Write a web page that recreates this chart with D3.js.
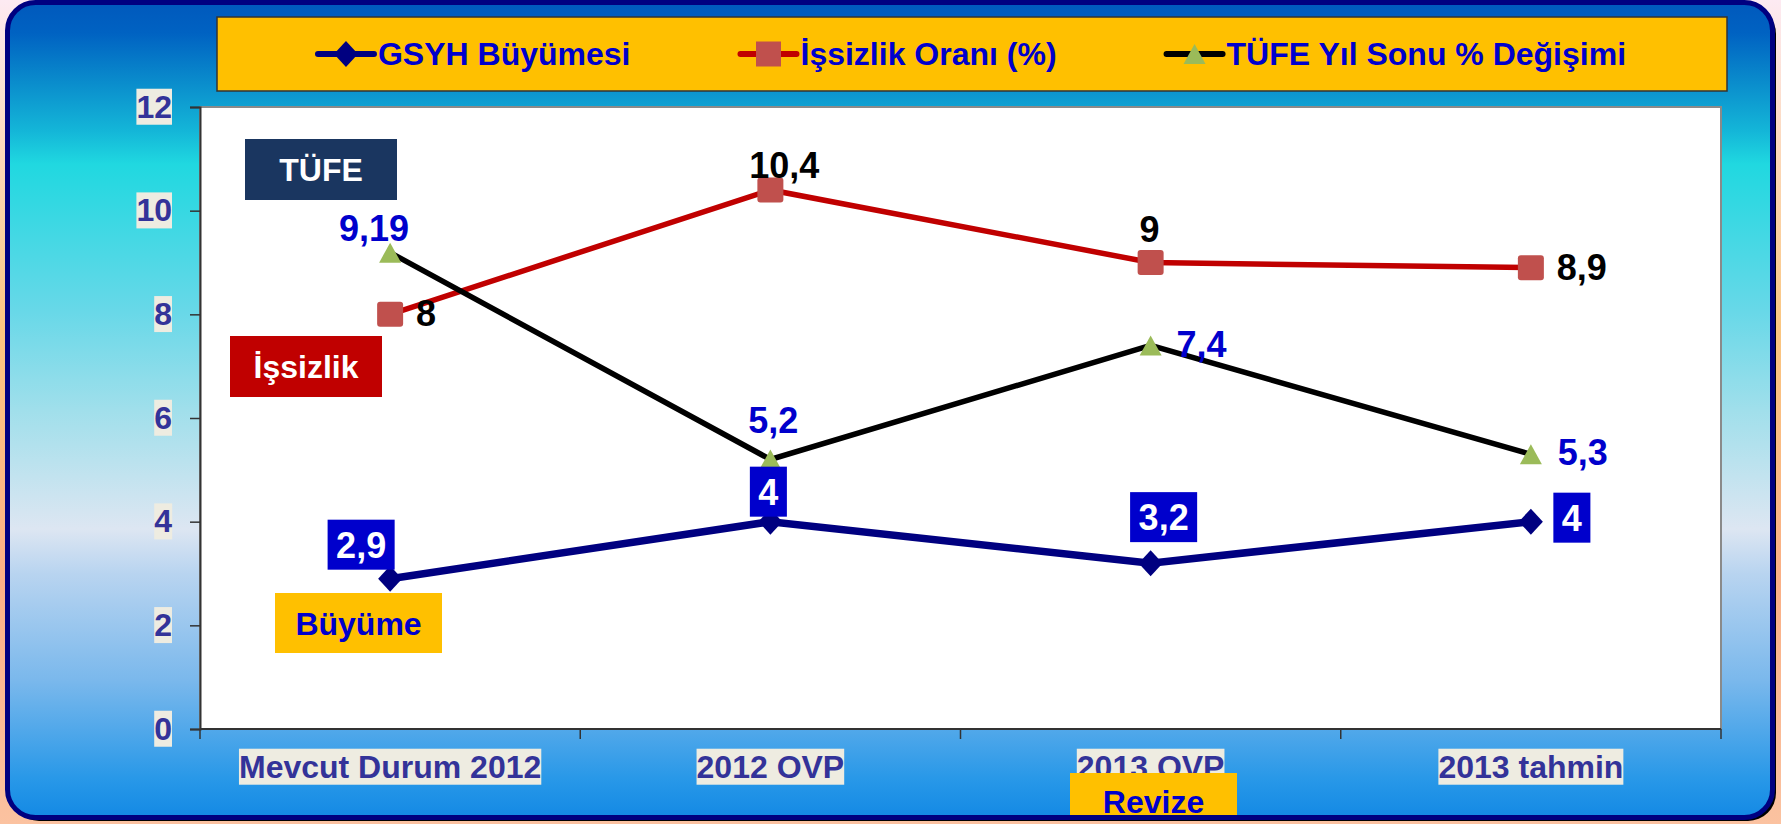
<!DOCTYPE html>
<html>
<head>
<meta charset="utf-8">
<script src="https://cdn.jsdelivr.net/npm/d3@7"></script>
<style>
	body { margin: 0; overflow: hidden; }
	svg { display: block; font-family: "Liberation Sans", Arial, sans-serif; font-weight: bold; }
</style>
</head>
<body>
<div id="chart"></div>
<script>
// data
const CATEGORIES = ["Mevcut Durum 2012", "2012 OVP", "2013 OVP", "2013 tahmin"];
const GSYH = [2.9, 4, 3.2, 4];
const ISSIZLIK = [8, 10.4, 9, 8.9];
const TUFE = [9.19, 5.2, 7.4, 5.3];
const Y_TICKS = [0, 2, 4, 6, 8, 10, 12];
const SERIES_NAMES = ["GSYH Büyümesi", "İşsizlik Oranı (%)", "TÜFE Yıl Sonu % Değişimi"];

// frame size
const FRAME_WIDTH = 1781;
const FRAME_HEIGHT = 824;
const PLOT = {left: 200, right: 1721, top: 107, bottom: 729};

// label offsets from the marker (x center, y baseline / box center)
const GSYH_LABEL_POS = [[-29, -34], [-2, -30], [13, -46], [41, -4]];
const TUFE_LABEL_POS = [[-16, -12], [3, -26], [51, 12], [52, 11]];
const ISSIZLIK_LABEL_POS = [[36, 12], [14, -12], [-1, -21], [51, 12]];

const SVG = d3.select("#chart")
				.append("svg")
					.attr("width", FRAME_WIDTH)
					.attr("height", FRAME_HEIGHT);

const DEFS = SVG.append("defs");

// outer page background
const BG_GRAD = DEFS.append("linearGradient")
					.attr("id", "bgGrad")
					.attr("x1", 0).attr("y1", 0).attr("x2", 0).attr("y2", 1);
[[0, "#fdeaf2"], [0.2, "#fcd7b6"], [0.4, "#fbc680"], [0.7, "#fbb086"], [1, "#fbc2a0"]]
	.forEach((s) => BG_GRAD.append("stop").attr("offset", s[0]).attr("stop-color", s[1]));

// blue frame gradient
const FRAME_GRAD = DEFS.append("linearGradient")
					.attr("id", "frameGrad")
					.attr("gradientUnits", "userSpaceOnUse")
					.attr("x1", 0).attr("y1", 0).attr("x2", 0).attr("y2", 820);
[[0, "#0058bc"], [0.04, "#0062c2"], [0.1, "#0a8ccc"], [0.16, "#14b6d8"], [0.2, "#20d8e0"],
 [0.38, "#68d8e8"], [0.5, "#a0dfeb"], [0.645, "#dde6f2"], [0.7, "#b8d4f0"], [0.83, "#7ab8ec"],
 [0.95, "#2898e8"], [1, "#1288e4"]]
	.forEach((s) => FRAME_GRAD.append("stop").attr("offset", s[0]).attr("stop-color", s[1]));

SVG.append("rect")
		.attr("width", FRAME_WIDTH)
		.attr("height", FRAME_HEIGHT)
		.attr("fill", "url(#bgGrad)");

// shadow + frame
SVG.append("rect")
		.attr("x", 11).attr("y", 6)
		.attr("width", 1765).attr("height", 815)
		.attr("rx", 28)
		.attr("fill", "#000");

SVG.append("rect")
		.attr("x", 7.5).attr("y", 2.5)
		.attr("width", 1765).attr("height", 815)
		.attr("rx", 28)
		.attr("fill", "url(#frameGrad)");

// scales
const X_SCALE = d3.scaleBand()
					.domain(CATEGORIES)
					.range([PLOT.left, PLOT.right]);

const Y_SCALE = d3.scaleLinear()
					.domain([0, 12])
					.range([PLOT.bottom, PLOT.top]);

const cx = (i) => X_SCALE(CATEGORIES[i]) + X_SCALE.bandwidth() / 2;

// plot area
SVG.append("rect")
		.attr("x", PLOT.left).attr("y", PLOT.top)
		.attr("width", PLOT.right - PLOT.left)
		.attr("height", PLOT.bottom - PLOT.top)
		.attr("fill", "#fff")
		.attr("stroke", "#8a8a8a")
		.attr("stroke-width", 2);

// y axis
const Y_AXIS = SVG.append("g")
					.attr("transform", "translate(" + PLOT.left + ",0)")
					.call(d3.axisLeft(Y_SCALE).tickValues(Y_TICKS).tickSize(10).tickPadding(18));
Y_AXIS.select(".domain").attr("stroke", "#333").attr("stroke-width", 2);
Y_AXIS.selectAll(".tick line").attr("stroke", "#333").attr("stroke-width", 1.5);
Y_AXIS.selectAll(".tick text")
		.attr("font-size", 32)
		.attr("font-family", "Liberation Sans, Arial, sans-serif")
		.attr("font-weight", "bold")
		.attr("fill", "#333399");

// x axis (labels only, ticks at band edges)
const X_AXIS = SVG.append("g")
					.attr("transform", "translate(0," + PLOT.bottom + ")")
					.call(d3.axisBottom(X_SCALE).tickSize(0).tickPadding(26));
X_AXIS.select(".domain").remove();
X_AXIS.selectAll(".tick text")
		.attr("font-size", 32)
		.attr("font-family", "Liberation Sans, Arial, sans-serif")
		.attr("font-weight", "bold")
		.attr("fill", "#333399");

SVG.append("line")
		.attr("x1", PLOT.left).attr("x2", PLOT.right)
		.attr("y1", PLOT.bottom).attr("y2", PLOT.bottom)
		.attr("stroke", "#333").attr("stroke-width", 2);

SVG.selectAll("xticks")
		.data(CATEGORIES.concat(["end"]))
		.enter()
		.append("line")
			.attr("x1", (d, i) => i < CATEGORIES.length ? X_SCALE(d) : PLOT.right)
			.attr("x2", (d, i) => i < CATEGORIES.length ? X_SCALE(d) : PLOT.right)
			.attr("y1", PLOT.bottom).attr("y2", PLOT.bottom + 10)
			.attr("stroke", "#333").attr("stroke-width", 1.5);

// beige boxes behind tick labels
function addBoxes(axis) {
	axis.selectAll(".tick").each(function() {
		const t = d3.select(this).select("text");
		const b = t.node().getBBox();
		d3.select(this).insert("rect", "text")
			.attr("x", b.x).attr("y", b.y)
			.attr("width", b.width).attr("height", b.height)
			.attr("fill", "#eeece1");
	});
}
addBoxes(Y_AXIS);
addBoxes(X_AXIS);

// series
const LINE = d3.line()
				.x((d, i) => cx(i))
				.y((d) => Y_SCALE(d));

SVG.append("path")
		.datum(GSYH)
		.attr("d", LINE)
		.attr("fill", "none")
		.attr("stroke", "#000080")
		.attr("stroke-width", 7.5);

SVG.append("path")
		.datum(ISSIZLIK)
		.attr("d", LINE)
		.attr("fill", "none")
		.attr("stroke", "#c00000")
		.attr("stroke-width", 5.5);

SVG.append("path")
		.datum(TUFE)
		.attr("d", LINE)
		.attr("fill", "none")
		.attr("stroke", "#000")
		.attr("stroke-width", 5.5);

const DIAMOND = "M0,-13L12,0L0,13L-12,0Z";
const TRIANGLE = "M0,-10L11,10L-11,10Z";

SVG.selectAll("diamonds")
		.data(GSYH)
		.enter()
		.append("path")
			.attr("d", DIAMOND)
			.attr("transform", (d, i) => "translate(" + cx(i) + "," + Y_SCALE(d) + ")")
			.attr("fill", "#000080");

SVG.selectAll("squares")
		.data(ISSIZLIK)
		.enter()
		.append("rect")
			.attr("x", (d, i) => cx(i) - 13)
			.attr("y", (d) => Y_SCALE(d) - 12.5)
			.attr("width", 26).attr("height", 25)
			.attr("rx", 3)
			.attr("fill", "#c0504d");

SVG.selectAll("triangles")
		.data(TUFE)
		.enter()
		.append("path")
			.attr("d", TRIANGLE)
			.attr("transform", (d, i) => "translate(" + cx(i) + "," + Y_SCALE(d) + ")")
			.attr("fill", "#9bbb59");

const fmt = (v) => String(v).replace(".", ",");

// value labels
SVG.selectAll("tufeLabels")
		.data(TUFE)
		.enter()
		.append("text")
			.attr("x", (d, i) => cx(i) + TUFE_LABEL_POS[i][0])
			.attr("y", (d, i) => Y_SCALE(d) + TUFE_LABEL_POS[i][1])
			.attr("text-anchor", "middle")
			.attr("font-size", 36)
			.attr("fill", "#0000cc")
			.text(fmt);

SVG.selectAll("issizlikLabels")
		.data(ISSIZLIK)
		.enter()
		.append("text")
			.attr("x", (d, i) => cx(i) + ISSIZLIK_LABEL_POS[i][0])
			.attr("y", (d, i) => Y_SCALE(d) + ISSIZLIK_LABEL_POS[i][1])
			.attr("text-anchor", "middle")
			.attr("font-size", 36)
			.attr("fill", "#000")
			.text(fmt);

const GSYH_LABELS = SVG.selectAll("gsyhLabels")
		.data(GSYH)
		.enter()
		.append("g")
			.attr("transform", (d, i) => "translate(" + (cx(i) + GSYH_LABEL_POS[i][0]) + "," + (Y_SCALE(d) + GSYH_LABEL_POS[i][1]) + ")");

GSYH_LABELS.append("text")
		.attr("text-anchor", "middle")
		.attr("y", 13)
		.attr("font-size", 36)
		.attr("fill", "#fff")
		.text(fmt);

GSYH_LABELS.each(function() {
	const w = d3.select(this).select("text").node().getComputedTextLength() + 17;
	d3.select(this).insert("rect", "text")
		.attr("x", -w / 2).attr("y", -25)
		.attr("width", w).attr("height", 50)
		.attr("fill", "#0000cc");
});

// annotation boxes
const NOTES = [
	{text: "TÜFE", x: 245, y: 139, w: 152, h: 61, fill: "#1a3660", color: "#fff"},
	{text: "İşsizlik", x: 230, y: 336, w: 152, h: 61, fill: "#c00000", color: "#fff"},
	{text: "Büyüme", x: 275, y: 593, w: 167, h: 60, fill: "#ffc000", color: "#0000cc"},
	{text: "Revize", x: 1070, y: 773, w: 167, h: 46, fill: "#ffc000", color: "#0000cc", base: 40}
];

const NOTE_G = SVG.selectAll("notes")
		.data(NOTES)
		.enter()
		.append("g")
			.attr("transform", (d) => "translate(" + d.x + "," + d.y + ")");

NOTE_G.append("rect")
		.attr("width", (d) => d.w)
		.attr("height", (d) => d.h)
		.attr("fill", (d) => d.fill);

NOTE_G.append("text")
		.attr("x", (d) => d.w / 2)
		.attr("y", (d) => d.base || d.h / 2 + 11.5)
		.attr("text-anchor", "middle")
		.attr("font-size", 32)
		.attr("fill", (d) => d.color)
		.text((d) => d.text);

// legend
SVG.append("rect")
		.attr("x", 217).attr("y", 17)
		.attr("width", 1510).attr("height", 74)
		.attr("fill", "#ffc000")
		.attr("stroke", "#333")
		.attr("stroke-width", 1.5);

const LEG_COLORS = ["#000080", "#c00000", "#000"];
const LEG = SVG.append("g");
const items = LEG.selectAll("items")
		.data(SERIES_NAMES)
		.enter()
		.append("g");

items.append("line")
		.attr("x1", 0).attr("x2", 56)
		.attr("y1", 54).attr("y2", 54)
		.attr("stroke", (d, i) => LEG_COLORS[i])
		.attr("stroke-width", 6)
		.attr("stroke-linecap", "round");

items.append("path")
		.attr("d", (d, i) => i === 0 ? DIAMOND : (i === 1 ? "M-12.5,-12.5h25v25h-25Z" : TRIANGLE))
		.attr("transform", "translate(28,54)")
		.attr("fill", (d, i) => ["#000080", "#c0504d", "#9bbb59"][i]);

items.append("text")
		.attr("x", 60)
		.attr("y", 65)
		.attr("font-size", 32)
		.attr("fill", "#0000cc")
		.text((d) => d);

let widths = [];
items.each(function() { widths.push(60 + d3.select(this).select("text").node().getComputedTextLength()); });
const GAP = 110;
let total = d3.sum(widths) + GAP * (widths.length - 1);
let pos = 972 - total / 2;
items.attr("transform", (d, i) => {
	const x = pos;
	pos += widths[i] + GAP;
	return "translate(" + x + ",0)";
});

// frame border on top
SVG.append("rect")
		.attr("x", 7.5).attr("y", 2.5)
		.attr("width", 1765).attr("height", 815)
		.attr("rx", 28)
		.attr("fill", "none")
		.attr("stroke", "#000080")
		.attr("stroke-width", 5);
</script>
</body>
</html>
